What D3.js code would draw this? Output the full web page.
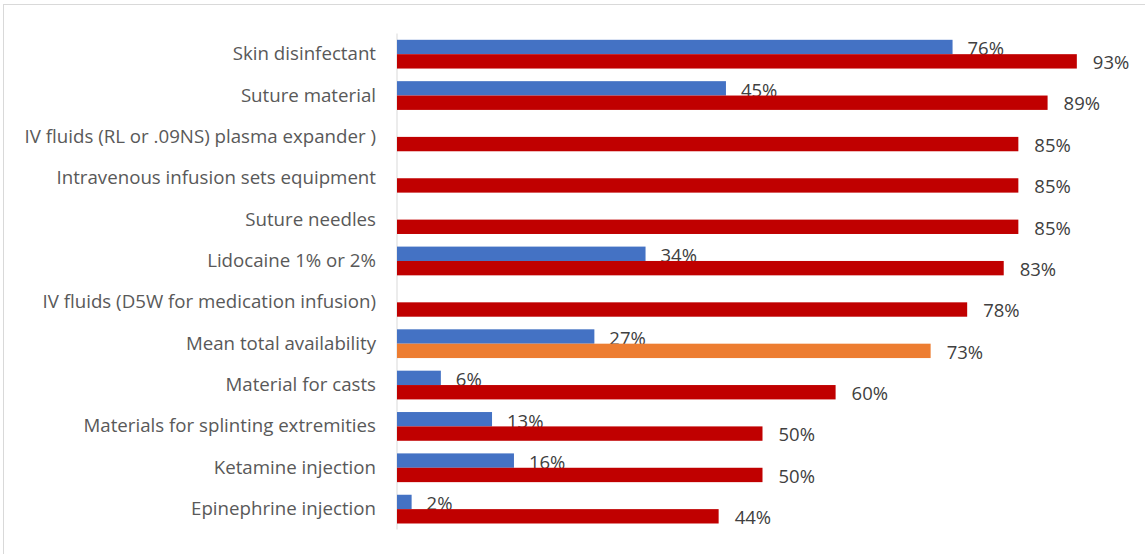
<!DOCTYPE html>
<html>
<head>
<meta charset="utf-8">
<script src="https://cdn.jsdelivr.net/npm/d3@7"></script>
<style>
  html, body { margin: 0; padding: 0; background: #fff; }
  svg { display: block; }
</style>
</head>
<body>
<svg id="chart" width="1145" height="554"></svg>
<script>
const categories = [
  "Skin disinfectant",
  "Suture material",
  "IV fluids (RL or .09NS) plasma expander )",
  "Intravenous infusion sets equipment",
  "Suture needles",
  "Lidocaine 1% or 2%",
  "IV fluids (D5W for medication infusion)",
  "Mean total availability",
  "Material for casts",
  "Materials for splinting extremities",
  "Ketamine injection",
  "Epinephrine injection"
];
// first series (blue); null = no bar
const seriesA = [76, 45, null, null, null, 34, null, 27, 6, 13, 16, 2];
// second series (red, mean row highlighted in orange)
const seriesB = [93, 89, 85, 85, 85, 83, 78, 73, 60, 50, 50, 44];
const highlightCategory = "Mean total availability";

const svg = d3.select("#chart");
const W = 1145, H = 554;
const fontFam = "'Open Sans', 'Liberation Sans', sans-serif";

// frame
svg.append("rect").attr("x", 3.5).attr("y", 4.5).attr("width", W + 5).attr("height", H)
  .attr("fill", "#fff").attr("stroke", "#d9d9d9").attr("stroke-width", 1);

const x = d3.scaleLinear().domain([0, 100]).range([397, 1128]);
const y = d3.scaleBand().domain(categories).range([33.6, 529.7]).paddingInner(0.305).paddingOuter(0.15);
const inner = d3.scaleBand().domain(["A", "B"]).range([0, y.bandwidth()]);

// category axis
const yAxis = d3.axisLeft(y).tickSize(0).tickPadding(21);
const gy = svg.append("g").attr("transform", `translate(${x(0)},0)`).call(yAxis);
gy.select(".domain").attr("stroke", "#d9d9d9").attr("d", `M0,33.5V529.5`);
gy.selectAll("text").attr("font-family", fontFam).attr("font-size", 18.7).attr("fill", "#595959");

const rowsA = categories.map((c, i) => ({c, v: seriesA[i]})).filter(d => d.v !== null);
const rowsB = categories.map((c, i) => ({c, v: seriesB[i]}));

svg.append("g").selectAll("rect").data(rowsA).join("rect")
  .attr("x", x(0)).attr("y", d => y(d.c) + inner("A"))
  .attr("width", d => x(d.v) - x(0)).attr("height", inner.bandwidth())
  .attr("fill", "#4472C4");
svg.append("g").selectAll("text").data(rowsA).join("text")
  .attr("x", d => x(d.v) + 15).attr("y", d => y(d.c) + inner("A") + inner.bandwidth() / 2)
  .attr("dy", "0.45em").attr("font-family", fontFam).attr("font-size", 18.5).attr("fill", "#404040")
  .text(d => d.v + "%");

svg.append("g").selectAll("rect").data(rowsB).join("rect")
  .attr("x", x(0)).attr("y", d => y(d.c) + inner("B"))
  .attr("width", d => x(d.v) - x(0)).attr("height", inner.bandwidth())
  .attr("fill", d => d.c === highlightCategory ? "#ED7D31" : "#C00000");
svg.append("g").selectAll("text").data(rowsB).join("text")
  .attr("x", d => x(d.v) + 16).attr("y", d => y(d.c) + inner("B") + inner.bandwidth() / 2)
  .attr("dy", "0.42em").attr("font-family", fontFam).attr("font-size", 18.5).attr("fill", "#404040")
  .text(d => d.v + "%");
</script>
</body>
</html>
